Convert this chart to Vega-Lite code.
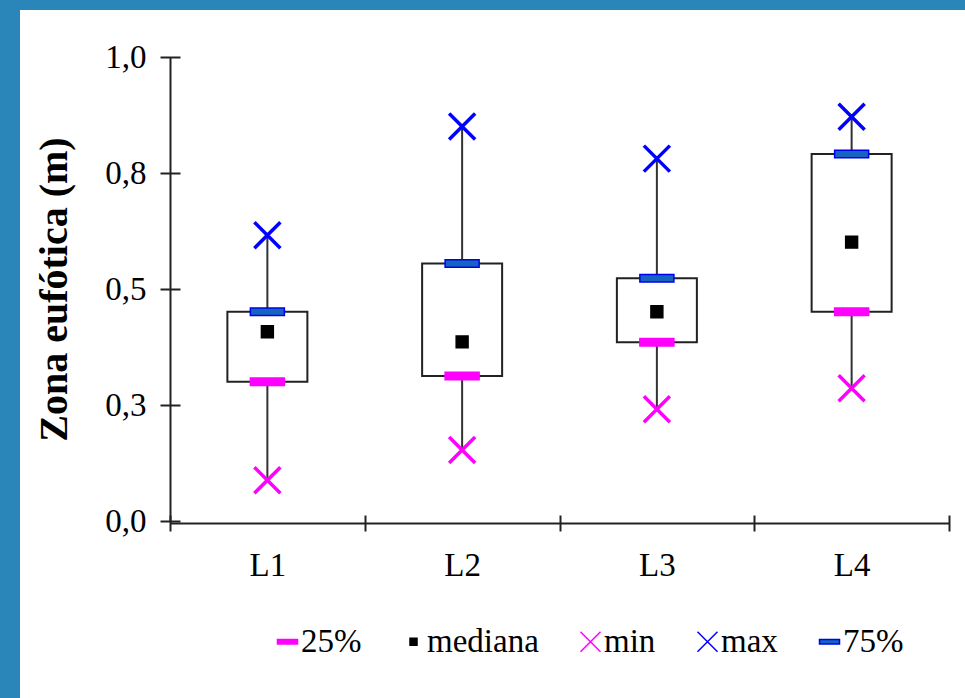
{
  "$schema": "https://vega.github.io/schema/vega-lite/v6.json",
  "width": 945,
  "height": 689,
  "autosize": {"type": "none"},
  "padding": {"left": 20, "top": 10, "right": 0, "bottom": 0},
  "background": "#2a86b8",
  "config": {
    "view": {"fill": "white", "stroke": null},
    "font": "Liberation Serif",
    "legend": {"orient": "none", "legendX": 251, "legendY": 615, "direction": "horizontal", "title": null, "labelFont": "Liberation Serif", "labelFontSize": 33, "labelColor": "black", "symbolSize": 400, "symbolStrokeWidth": 1.5, "labelOffset": -3, "columnPadding": 35, "labelLimit": 400, "padding": 0}
  },
  "data": {
    "values": [
      {"loc": "L1", "min": 0.088, "25%": 0.300, "mediana": 0.408, "75%": 0.451, "max": 0.616},
      {"loc": "L2", "min": 0.153, "25%": 0.3125, "mediana": 0.386, "75%": 0.555, "max": 0.850},
      {"loc": "L3", "min": 0.241, "25%": 0.385, "mediana": 0.451, "75%": 0.523, "max": 0.781},
      {"loc": "L4", "min": 0.286, "25%": 0.451, "mediana": 0.601, "75%": 0.791, "max": 0.871}
    ]
  },
  "layer": [
    {
      "mark": {"type": "rule", "color": "#333333", "strokeWidth": 2},
      "encoding": {
        "x": {
          "field": "loc", "type": "nominal",
          "scale": {"type": "band", "domain": ["L1", "L2", "L3", "L4"], "range": [150, 929], "paddingInner": 0, "paddingOuter": 0},
          "axis": {"orient": "bottom", "offset": -184, "domain": false, "tickBand": "extent", "tickSize": 16, "tickWidth": 2, "tickColor": "#222222", "labelFont": "Liberation Serif", "labelFontSize": 33, "labelColor": "black", "labelPadding": 18, "labelAngle": 0, "title": null, "grid": false}
        },
        "y": {
          "field": "min", "type": "quantitative",
          "scale": {"domain": [0, 1], "range": [511, 47], "nice": false, "zero": false},
          "axis": {"orient": "left", "offset": -160, "domain": false, "ticks": true, "tickSize": 20, "tickWidth": 2, "tickColor": "#222222", "values": [0, 0.25, 0.5, 0.75, 1], "labelExpr": "replace(format(datum.value,'.1f'),'.',',')", "labelFont": "Liberation Serif", "labelFontSize": 33, "labelColor": "black", "labelPadding": 14, "grid": false, "title": "Zona eufótica (m)", "titleFont": "Liberation Serif", "titleFontSize": 40, "titleFontWeight": "bold", "titleColor": "black", "titlePadding": 30}
        },
        "y2": {"field": "max"}
      }
    },
    {
      "mark": {"type": "bar", "width": 80, "fill": "white", "stroke": "#222222", "strokeWidth": 2},
      "encoding": {
        "x": {
          "field": "loc", "type": "nominal",
          "scale": {"type": "band", "domain": ["L1", "L2", "L3", "L4"], "range": [150, 929], "paddingInner": 0, "paddingOuter": 0},
          "axis": {"orient": "bottom", "offset": -176, "domain": true, "domainColor": "#222222", "domainWidth": 2, "ticks": false, "labels": false, "title": null, "grid": false}
        },
        "y": {
          "field": "25%", "type": "quantitative",
          "scale": {"domain": [0, 1], "range": [511, 47], "nice": false, "zero": false},
          "axis": {"orient": "left", "offset": -150, "domain": true, "domainColor": "#222222", "domainWidth": 2, "ticks": false, "labels": false, "title": null, "grid": false}
        },
        "y2": {"field": "75%"}
      }
    },
    {
      "transform": [{"fold": ["25%", "mediana", "min", "max", "75%"], "as": ["serie", "valor"]}],
      "mark": {"type": "point", "filled": true, "opacity": 1},
      "encoding": {
        "x": {"field": "loc", "type": "nominal", "axis": null},
        "y": {"field": "valor", "type": "quantitative", "axis": null},
        "shape": {
          "field": "serie", "type": "nominal",
          "scale": {"domain": ["25%", "mediana", "min", "max", "75%"], "range": ["M-1,-0.22H1V0.22H-1Z", "M-0.35,-0.35H0.35V0.35H-0.35Z", "M-1,-1L1,1M-1,1L1,-1", "M-1,-1L1,1M-1,1L1,-1", "M-1,-0.22H1V0.22H-1Z"]}
        },
        "fill": {
          "field": "serie", "type": "nominal",
          "scale": {"domain": ["25%", "mediana", "min", "max", "75%"], "range": ["#ff00ff", "#000000", "#ff00ff", "#0000ff", "#1565c0"]}
        },
        "stroke": {
          "field": "serie", "type": "nominal",
          "scale": {"domain": ["25%", "mediana", "min", "max", "75%"], "range": ["#ff00ff", "#000000", "#ff00ff", "#0000ff", "#0000ee"]}
        },
        "size": {
          "condition": {"test": "datum.serie == 'min' || datum.serie == 'max'", "value": 676},
          "value": 1156
        },
        "strokeWidth": {
          "condition": {"test": "datum.serie == 'min' || datum.serie == 'max'", "value": 3.5},
          "value": 1.5
        }
      }
    }
  ],
  "resolve": {"axis": {"x": "independent", "y": "independent"}}
}
